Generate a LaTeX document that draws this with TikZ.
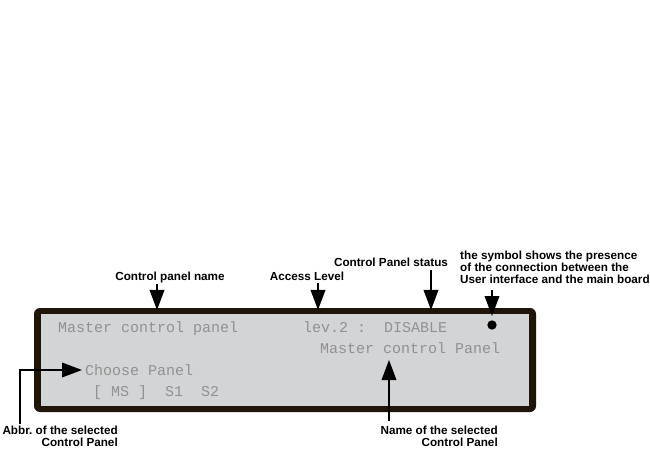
\documentclass[tikz,border=0pt]{standalone}
\usepackage{fontspec}
\setmainfont{Liberation Sans}
\newfontfamily\lcdfont{Liberation Mono}
\usepackage{xcolor}
\usepackage{tikz}
\usetikzlibrary{arrows.meta}
\definecolor{lcdback}{RGB}{211,212,214}
\definecolor{lcdtext}{RGB}{145,145,145}
\definecolor{frame}{RGB}{31,22,9}

\begin{document}
\begin{tikzpicture}[
  x=0.3mm,y=-0.3mm,
  label/.style={font=\bfseries\fontsize{10}{10.4}\selectfont,inner sep=0pt},
  lcd/.style={font=\lcdfont\fontsize{12.8}{14}\selectfont,text=lcdtext,inner sep=0pt,anchor=base west},
  arrow/.style={-{Triangle[length=6mm,width=4.4mm]},line width=0.4mm}
]
  \useasboundingbox (0,0) rectangle (650,449);
  % display frame and screen
  \fill[frame,rounded corners=1.8mm] (34,308) rectangle (536,412);
  \fill[lcdback] (41,314) rectangle (529,406);
  \node[lcd] (pname) at (58,332) {Master control panel};
  \node[lcd] (plev) at (303,332) {lev.2 :~~DISABLE};
  \node[lcd] (psel) at (320,353) {Master control Panel};
  \node[lcd] (pchoose) at (85,375) {Choose Panel};
  \node[lcd] (pabbr) at (93,396) {[ MS ]~~S1~~S2};
  \node[circle,fill=black,inner sep=0pt,minimum size=2.8mm] (conn) at (492,325) {};
  % labels
  \node[label,anchor=base] (lname) at (170,280) {Control panel name};
  \node[label,anchor=base] (llev) at (307,280) {Access Level};
  \node[label,anchor=base] (lstat) at (391,267) {Control Panel status};
  \node[label,anchor=north west,align=left] (lconn) at (460,250.5)
    {the symbol shows the presence\\of the connection between the\\User interface and the main board};
  \node[label,anchor=north east,align=right] (labbr) at (118,425.5) {Abbr.\ of the selected\\Control Panel};
  \node[label,anchor=north east,align=right] (lsel) at (498,425.5) {Name of the selected\\Control Panel};
  % arrow ends
  \coordinate (tname) at (157,310);
  \coordinate (tlev) at (318,310);
  \coordinate (tstat) at (431,310);
  \coordinate (tconn) at (492,316);
  \coordinate (tchoose) at (82,370);
  \coordinate (cabbr) at (20,370);
  \coordinate (tsel) at (389,360);
  \draw[arrow] (lname.south -| tname) ++(0,1) -- (tname);
  \draw[arrow] (llev.south -| tlev) ++(0,3) -- (tlev);
  \draw[arrow] (lstat.south -| tstat) ++(0,3) -- (tstat);
  \draw[arrow] (lconn.south -| tconn) ++(0,6) -- (tconn);
  \draw[arrow] (labbr.north -| cabbr) ++(0,-2) -- (cabbr) -- (tchoose);
  \draw[arrow] (lsel.north -| tsel) ++(0,-5) -- (tsel);
\end{tikzpicture}
\end{document}
